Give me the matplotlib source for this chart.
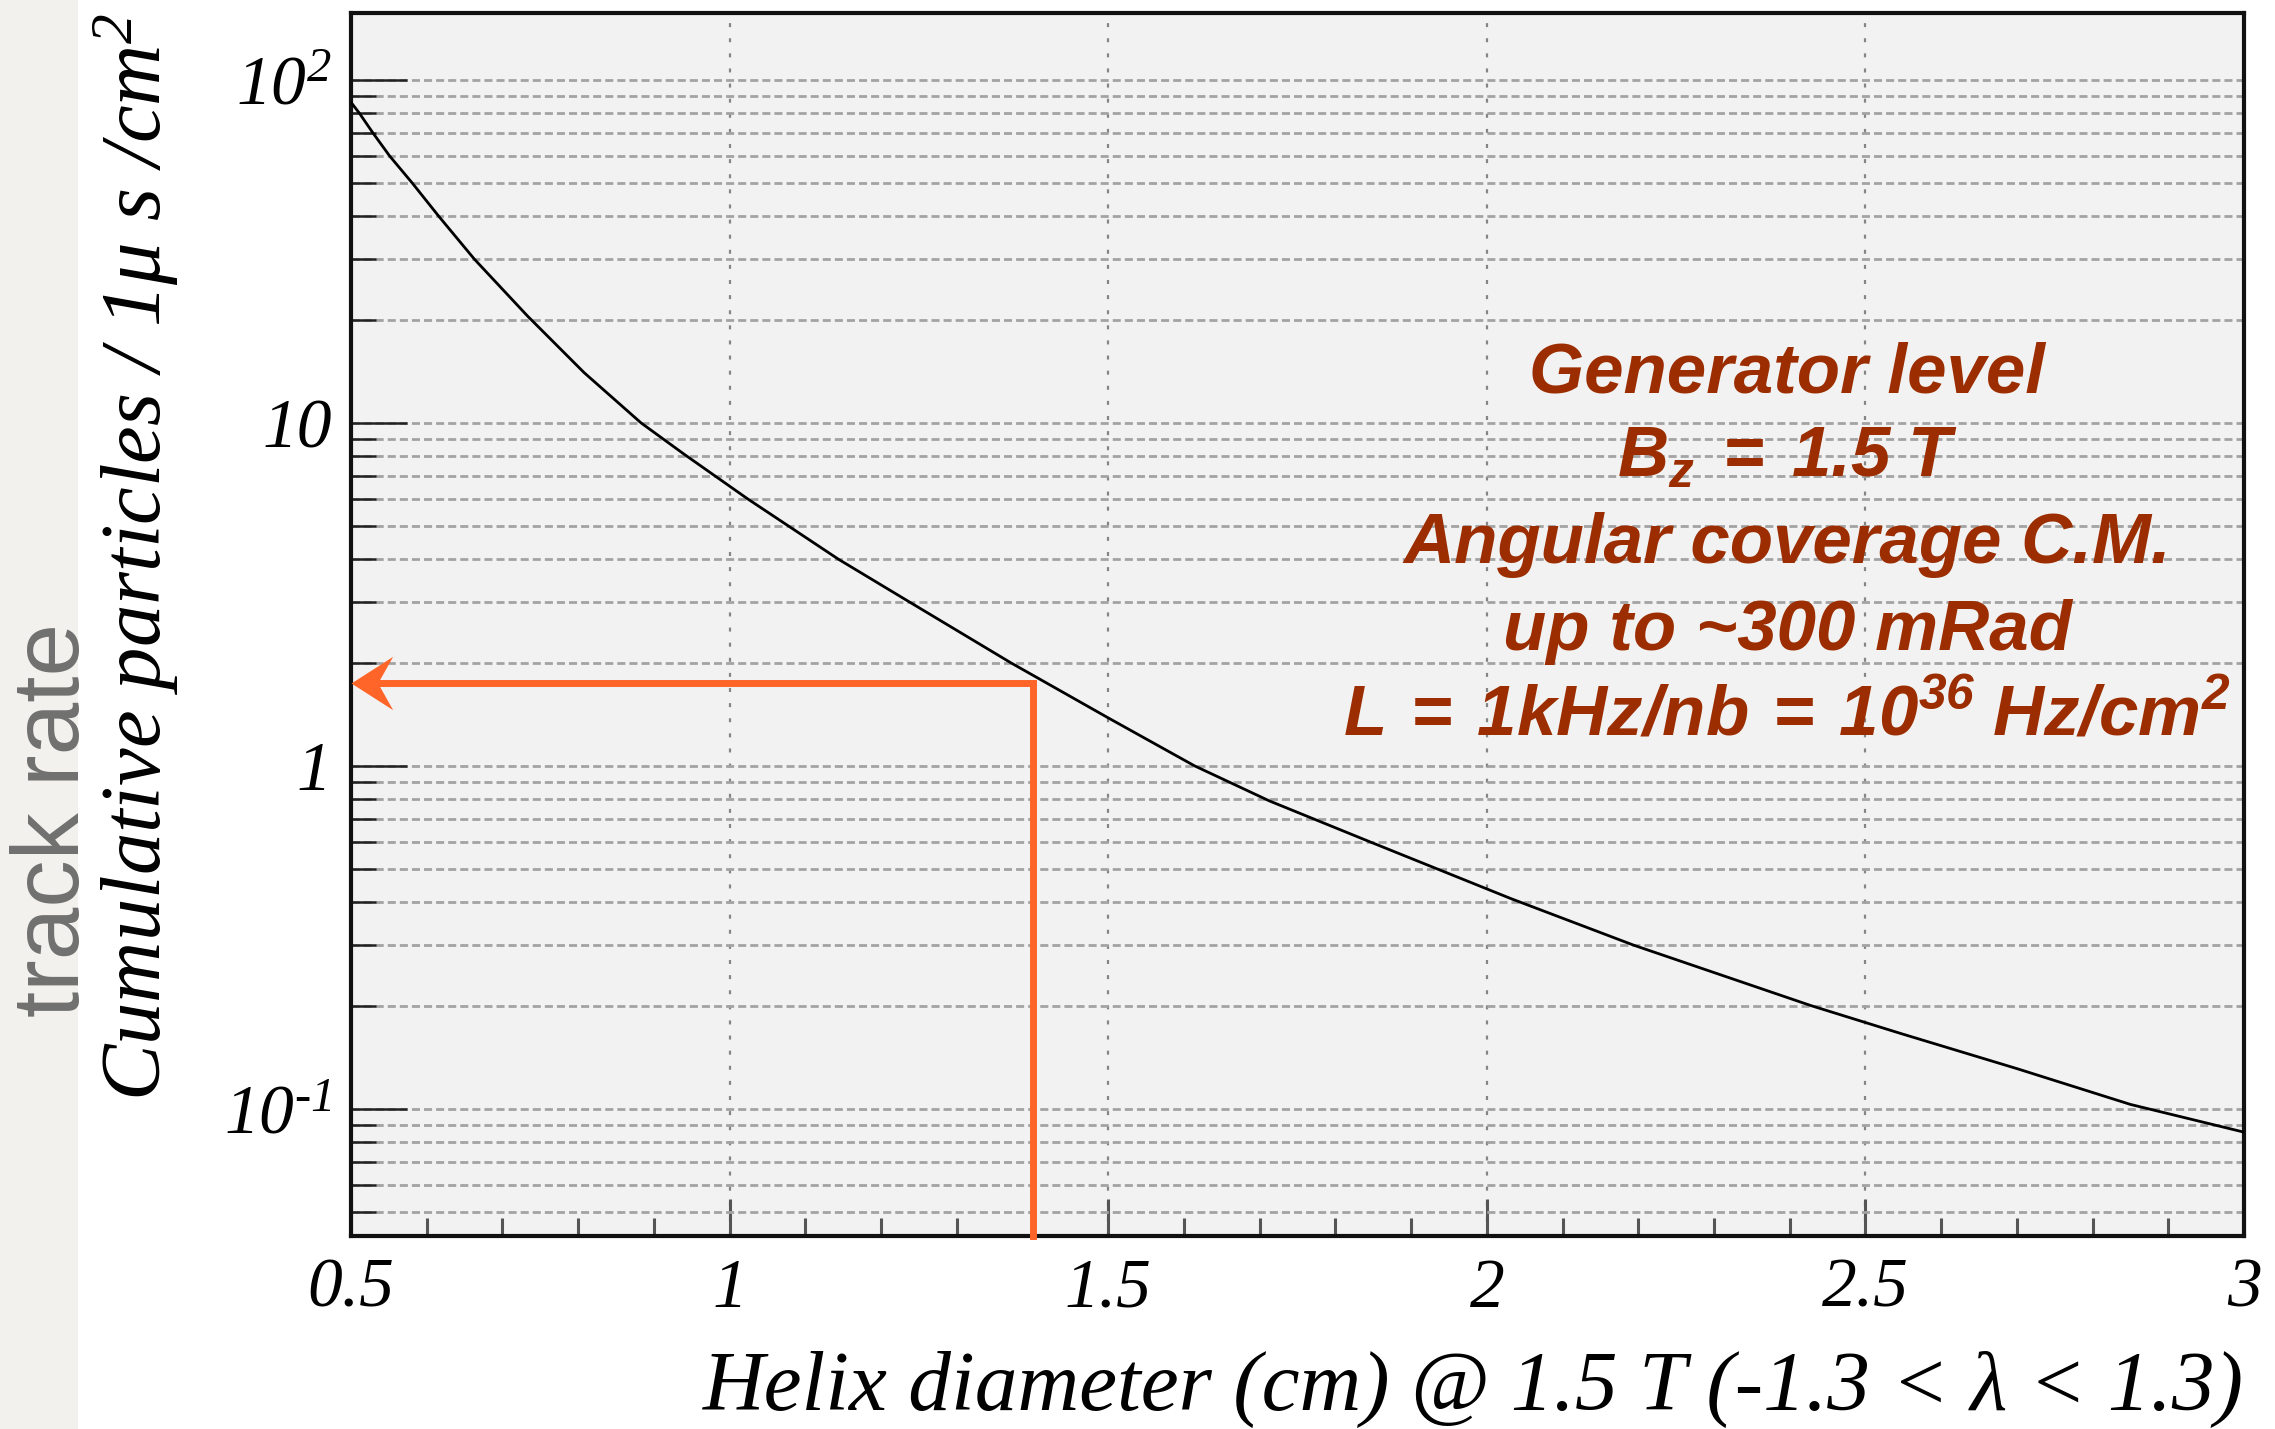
import numpy as np
import matplotlib
matplotlib.use("Agg")
import matplotlib.pyplot as plt
from matplotlib.patches import Rectangle
from matplotlib.path import Path
from matplotlib.ticker import MultipleLocator, LogLocator, NullFormatter, FixedLocator, FixedFormatter

plt.rcParams['font.family'] = ['Liberation Serif', 'DejaVu Serif']
plt.rcParams['mathtext.fontset'] = 'custom'
plt.rcParams['mathtext.rm'] = 'Liberation Serif:italic'
plt.rcParams['mathtext.it'] = 'Liberation Serif:italic'
plt.rcParams['mathtext.bf'] = 'Liberation Sans:italic:bold'

# cumulative track rate (grid-line crossings)
diameter = [0.5, 0.511, 0.529, 0.551, 0.581, 0.616, 0.663, 0.733, 0.808, 0.883,
            0.940, 1.024, 1.144, 1.238, 1.371, 1.5, 1.614, 1.713, 1.846, 2.032,
            2.194, 2.428, 2.546, 2.70, 2.85, 3.0]
rate = [86.0, 80.0, 70.0, 60.0, 50.0, 40.0, 30.0, 20.5, 14.0, 10.0,
        8.1, 6.0, 4.0, 3.0, 2.0, 1.38, 1.0, 0.79, 0.6, 0.41,
        0.3, 0.2, 0.166, 0.131, 0.103, 0.0855]

# working point marked by the orange arrow
arrow_x = 1.4
arrow_y = 1.75

x_min, x_max = 0.5, 3.0
y_min, y_max = 0.0426, 156.7

x_major = [0.5, 1.0, 1.5, 2.0, 2.5, 3.0]
x_ticklabels = ['0.5', '1', '1.5', '2', '2.5', '3']
y_major = [0.1, 1, 10, 100]
y_ticklabels = [r'10$^{\text{-1}}$', '1', '10', r'10$^{2}$']

info_lines = ['Generator level',
              r'$\mathbf{B_{z}\ =\ 1.5\ T}$',
              'Angular coverage C.M.',
              'up to ~300 mRad',
              r'$\mathbf{L\;=\;1kHz/nb\;=\;10^{36}\ Hz/cm^{2}}$']

xlabel = u'Helix diameter (cm) @ 1.5 T (-1.3 < \u03bb < 1.3)'
ylabel = u'Cumulative particles / 1\u03bc s /cm$^{2}$'

fig = plt.figure(figsize=(22.75, 14.29), dpi=100)
fig.patches.append(Rectangle((0, 0), 78 / 2275, 1, transform=fig.transFigure,
                             facecolor='#f2f1ed', edgecolor='none', zorder=0))
fig.text(55 / 2275, 1 - 820 / 1429, 'track rate', rotation=90, ha='center',
         va='center', fontsize=68, color='#707070', family='Liberation Sans')

ax = fig.add_axes([0.1543, 0.1351, 0.8321, 0.8558])
ax.set_facecolor('#f2f2f2')
ax.set_yscale('log')
ax.set_xlim(x_min, x_max)
ax.set_ylim(y_min, y_max)

ax.plot(diameter, rate, color='black', lw=2.0, zorder=3)

orange = '#ff6428'
ax.plot([arrow_x, arrow_x, x_min + 0.03], [y_min, arrow_y, arrow_y],
        color=orange, lw=5, solid_joinstyle='miter', zorder=4, clip_on=False)
head = Path([(0, 0), (1, 0.64), (0.64, 0), (1, -0.64), (0, 0)],
            [Path.MOVETO, Path.LINETO, Path.LINETO, Path.LINETO, Path.CLOSEPOLY])
ax.plot([x_min], [arrow_y], marker=head, markersize=60, color=orange,
        markeredgewidth=0, zorder=5, clip_on=False)

# grid
ax.set_axisbelow(True)
ax.grid(which='both', axis='y', color='#a3a3a3', lw=2.0, linestyle=(0, (2.9, 1.45)))
ax.grid(which='major', axis='x', color='#858585', lw=1.6, linestyle=(0, (1.8, 5.0)))

ax.xaxis.set_major_locator(FixedLocator(x_major))
ax.xaxis.set_major_formatter(FixedFormatter(x_ticklabels))
ax.xaxis.set_minor_locator(MultipleLocator(0.1))
ax.yaxis.set_major_locator(FixedLocator(y_major))
ax.yaxis.set_major_formatter(FixedFormatter(y_ticklabels))
ax.yaxis.set_minor_locator(LogLocator(base=10, subs=np.arange(2, 10)))
ax.yaxis.set_minor_formatter(NullFormatter())

ax.tick_params(axis='x', which='major', direction='in', length=27, width=2.2,
               color='#555555', pad=16, labelsize=50)
ax.tick_params(axis='x', which='minor', direction='in', length=13, width=2.2,
               color='#555555')
ax.tick_params(axis='y', which='major', direction='in', length=40, width=1.8,
               color='#222222', pad=14, labelsize=50)
ax.tick_params(axis='y', which='minor', direction='in', length=18, width=1.8,
               color='#222222')
for lab in ax.get_xticklabels() + ax.get_yticklabels():
    lab.set_fontstyle('italic')

for sp in ax.spines.values():
    sp.set_linewidth(3)
    sp.set_color('#111111')

ax.set_xlabel(xlabel, loc='right', fontsize=61.5, fontstyle='italic')
ax.xaxis.set_label_coords(1.0, -0.094)
ax.set_ylabel(ylabel, loc='top', fontsize=61, fontstyle='italic')
ax.yaxis.set_label_coords(-0.0898, 1.0)

red = '#9b2d00'
baselines = [0.690, 0.6206, 0.5503, 0.4792, 0.4097]
for txt, yb in zip(info_lines, baselines):
    ax.text(0.7586, yb, txt, transform=ax.transAxes, ha='center', va='baseline',
            fontsize=51, color=red, family='Liberation Sans', fontweight='bold',
            fontstyle='italic', zorder=6)

fig.savefig('out.png', dpi=100)
